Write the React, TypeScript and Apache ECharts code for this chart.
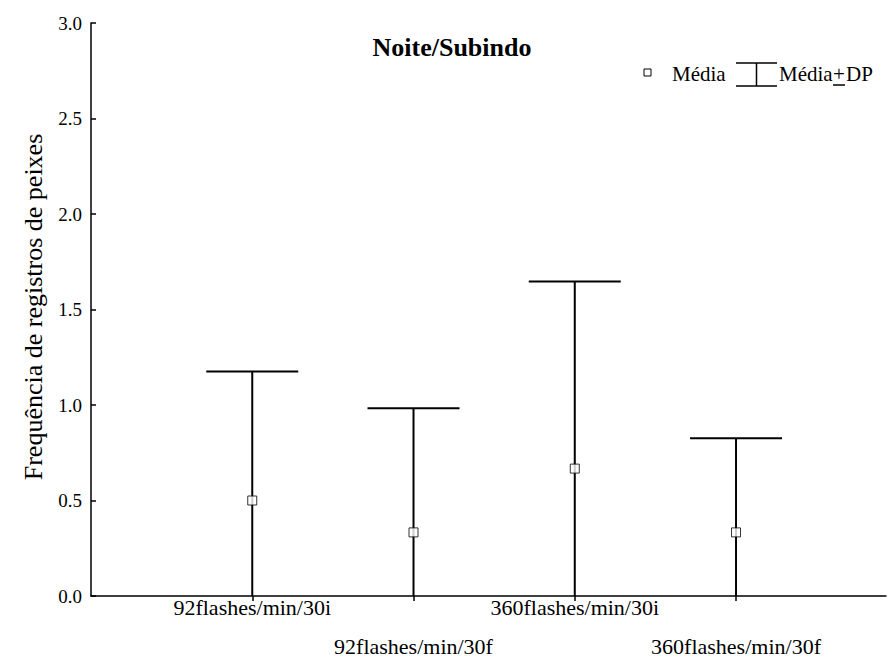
import React, { useEffect, useRef } from "react";
import * as echarts from "echarts";

const categories = ["92flashes/min/30i", "92flashes/min/30f", "360flashes/min/30i", "360flashes/min/30f"];
const positions = [1, 2, 3, 4];
const means = [0.5, 0.333, 0.667, 0.333];
const sds = [0.675, 0.65, 0.98, 0.493];
const yTicks = [0, 0.5, 1, 1.5, 2, 2.5, 3];

const FONT = "Liberation Serif";

export default function App() {
  const ref = useRef<HTMLDivElement>(null);
  useEffect(() => {
    document.body.style.margin = "0";
    const chart = echarts.init(ref.current!, null, { renderer: "svg" });
    const barData = positions.map((p, i) => [p, Math.max(means[i] - sds[i], 0), means[i] + sds[i]]);
    const meanData = positions.map((p, i) => [p, means[i]]);
    const labelFor = (v: number, row: number) => {
      const idx = positions.indexOf(v);
      if (idx < 0) return "";
      return idx % 2 === row ? categories[idx] : "";
    };
    const xBase = {
      type: "value",
      min: 0,
      max: 4.93,
      interval: 1,
      splitLine: { show: false },
    };
    const legendFont = `21px "${FONT}"`;
    chart.setOption({
      animation: false,
      backgroundColor: "#ffffff",
      grid: { left: 91, right: 2, top: 23, bottom: 62, containLabel: false },
      xAxis: [
        {
          ...xBase,
          position: "bottom",
          axisLine: { show: true, onZero: false, lineStyle: { color: "#000", width: 1.5 } },
          axisTick: { show: true, inside: false, length: 5, customValues: positions, lineStyle: { color: "#000", width: 1.5 } },
          axisLabel: {
            customValues: positions,
            formatter: (v: number) => labelFor(v, 0),
            fontFamily: FONT,
            fontSize: 22,
            color: "#000",
            margin: 0,
            verticalAlign: "top",
          },
        },
        {
          ...xBase,
          position: "bottom",
          offset: 39,
          axisLine: { show: false },
          axisTick: { show: false },
          axisLabel: {
            customValues: positions,
            formatter: (v: number) => labelFor(v, 1),
            fontFamily: FONT,
            fontSize: 22,
            color: "#000",
            margin: 0,
            verticalAlign: "top",
          },
        },
      ],
      yAxis: {
        type: "value",
        min: 0,
        max: 3,
        interval: 0.5,
        splitLine: { show: false },
        axisLine: { show: true, lineStyle: { color: "#000", width: 1.5 } },
        axisTick: { show: true, inside: true, length: 5, lineStyle: { color: "#000", width: 1.5 } },
        axisLabel: {
          formatter: (v: number) => (yTicks.includes(v) ? v.toFixed(1) : ""),
          fontFamily: FONT,
          fontSize: 19,
          color: "#000",
          margin: 9,
        },
      },
      graphic: [
        {
          type: "text",
          x: 452,
          y: 47,
          style: { text: "Noite/Subindo", font: `bold 26px "${FONT}"`, fill: "#000", align: "center", verticalAlign: "middle" },
        },
        {
          type: "text",
          x: 33,
          y: 307,
          rotation: Math.PI / 2,
          style: { text: "Frequência de registros de peixes", font: `26px "${FONT}"`, fill: "#000", align: "center", verticalAlign: "middle" },
        },
        { type: "rect", shape: { x: 644, y: 69, width: 7, height: 7 }, style: { fill: "#fff", stroke: "#000", lineWidth: 1 } },
        { type: "text", x: 672, y: 74, style: { text: "Média", font: legendFont, fill: "#000", align: "left", verticalAlign: "middle" } },
        { type: "line", shape: { x1: 736, y1: 63, x2: 777, y2: 63 }, style: { stroke: "#000", lineWidth: 1.5 } },
        { type: "line", shape: { x1: 756.5, y1: 63, x2: 756.5, y2: 86 }, style: { stroke: "#000", lineWidth: 1.5 } },
        { type: "line", shape: { x1: 736, y1: 86, x2: 777, y2: 86 }, style: { stroke: "#000", lineWidth: 1.5 } },
        { type: "text", x: 779, y: 74, style: { text: "Média", font: legendFont, fill: "#000", align: "left", verticalAlign: "middle" } },
        { type: "text", x: 833, y: 74, style: { text: "+", font: legendFont, fill: "#000", align: "left", verticalAlign: "middle" } },
        { type: "line", shape: { x1: 833, y1: 85, x2: 845, y2: 85 }, style: { stroke: "#000", lineWidth: 1.5 } },
        { type: "text", x: 846, y: 74, style: { text: "DP", font: legendFont, fill: "#000", align: "left", verticalAlign: "middle" } },
      ],
      series: [
        {
          type: "custom",
          xAxisIndex: 0,
          data: barData,
          renderItem: (params: any, api: any) => {
            const x = api.value(0);
            const lo = api.coord([x, api.value(1)]);
            const hi = api.coord([x, api.value(2)]);
            const half = 46;
            return {
              type: "group",
              children: [
                { type: "line", shape: { x1: lo[0], y1: lo[1], x2: hi[0], y2: hi[1] }, style: { stroke: "#000", lineWidth: 2 } },
                { type: "line", shape: { x1: hi[0] - half, y1: hi[1], x2: hi[0] + half, y2: hi[1] }, style: { stroke: "#000", lineWidth: 2 } },
              ],
            };
          },
          z: 2,
        },
        {
          type: "scatter",
          xAxisIndex: 0,
          data: meanData,
          symbol: "rect",
          symbolSize: 9,
          itemStyle: { color: "#fff", borderColor: "#000", borderWidth: 1 },
          z: 3,
        },
      ],
    });
    return () => chart.dispose();
  }, []);
  return <div ref={ref} style={{ width: 888, height: 658 }} />;
}
